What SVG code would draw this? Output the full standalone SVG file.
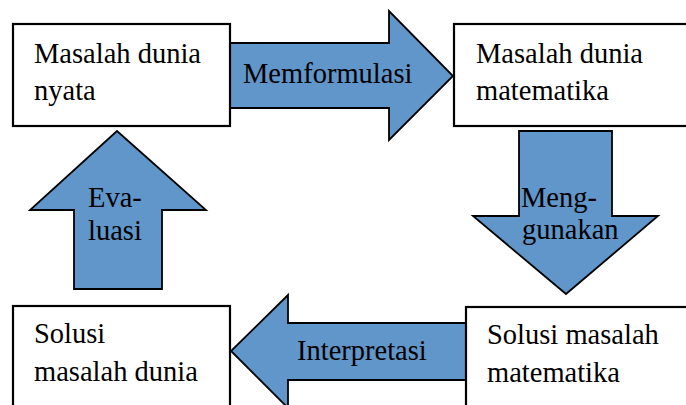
<svg xmlns="http://www.w3.org/2000/svg" width="686" height="405" viewBox="0 0 686 405">
<style>
.box{fill:#fff;stroke:#000;stroke-width:2.2}
.arr{fill:#6096CA;stroke:#000;stroke-width:1.8;stroke-linejoin:miter}
</style>
<rect width="686" height="405" fill="#fff"/>
<g font-family="Liberation Serif, Times New Roman, serif" font-size="28.5" fill="#000">
<g id="connectors">
<g id="memformulasi">
<polygon class="arr" points="230,43 389,43 389,11 453,76 389,140 389,108 230,108"/>
<text x="243" y="83">Memformulasi</text>
</g>
<g id="menggunakan">
<polygon class="arr" points="519,131 612,131 612,216 658,216 566,294 473,216 519,216"/>
<text x="521" y="207">Meng-</text>
<text x="522" y="239">gunakan</text>
</g>
<g id="interpretasi">
<polygon class="arr" points="466,323 466,380 288,380 288,408 231,351 288,295 288,323"/>
<text x="297" y="360">Interpretasi</text>
</g>
<g id="evaluasi">
<polygon class="arr" points="74,289 74,210 30,210 117,131 206,210 162,210 162,289"/>
<text x="88" y="207">Eva-</text>
<text x="88" y="240">luasi</text>
</g>
</g>
<g id="node-masalah-dunia-nyata">
<rect class="box" x="13" y="24" width="217" height="102"/>
<text x="34" y="63">Masalah dunia</text>
<text x="34" y="100">nyata</text>
</g>
<g id="node-masalah-dunia-matematika">
<rect class="box" x="454" y="24" width="240" height="102"/>
<text x="476" y="63">Masalah dunia</text>
<text x="476" y="100">matematika</text>
</g>
<g id="node-solusi-masalah-matematika">
<rect class="box" x="466" y="307" width="240" height="110"/>
<text x="487" y="344">Solusi masalah</text>
<text x="487" y="382">matematika</text>
</g>
<g id="node-solusi-masalah-dunia">
<rect class="box" x="13" y="306" width="217" height="110"/>
<text x="34" y="343">Solusi</text>
<text x="34" y="381">masalah dunia</text>
</g>
</g>
</svg>
